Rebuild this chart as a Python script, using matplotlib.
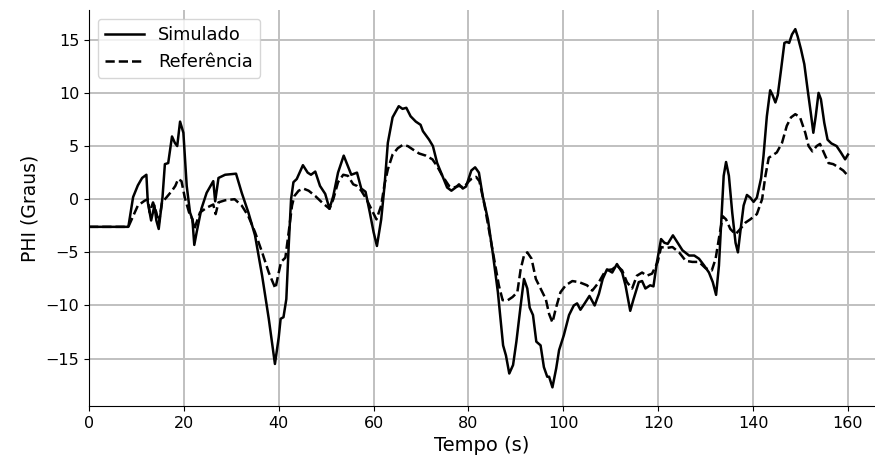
import matplotlib
matplotlib.use("Agg")
import matplotlib.pyplot as plt
import numpy as np

# Simulado (solid)
t_sim = [0, 8.3, 9.3, 10.3, 11.2, 12.1, 12.4, 13.1, 13.8, 14.2, 14.7, 15.5, 16.0, 16.7,
         17.5, 18.1, 18.6, 19.2, 19.9, 20.6, 21.3, 21.8, 22.2, 22.7, 23.7, 24.8, 26.2,
         26.6, 27.3, 28.7, 31.0, 32.2, 33.6, 35.0, 36.5, 37.9, 39.2, 40.0, 40.4, 41.0,
         41.6, 42.1, 42.6, 43.1, 43.8, 45.1, 46.1, 46.8, 47.7, 48.7, 49.8, 50.7, 51.5,
         52.5, 53.7, 54.6, 55.3, 56.5, 57.4, 58.3, 59.2, 60.0, 60.7, 61.6, 62.3, 63.0,
         64.0, 65.3, 66.1, 66.9, 67.8, 68.9, 69.9, 70.4, 71.7, 72.5, 73.4, 74.5, 75.5,
         76.4, 77.3, 78.0, 78.8, 79.5, 80.6, 81.4, 82.2, 83.0, 84.1, 85.1, 86.2, 86.9,
         87.3, 87.9, 88.6, 89.4, 90.1, 91.0, 91.7, 92.4, 92.9, 93.6, 94.3, 95.2, 95.9,
         96.6, 97.0, 97.7, 98.5, 99.1, 100.1, 101.2, 102.2, 102.9, 103.6, 104.5, 105.5,
         106.6, 107.5, 108.3, 109.2, 110.3, 111.3, 112.4, 113.1, 114.1, 114.8, 115.9,
         116.6, 117.3, 118.3, 119.0, 119.7, 120.6, 121.3, 122.0, 123.1, 124.1, 125.1,
         126.5, 127.6, 128.6, 129.7, 130.7, 131.5, 132.2, 132.8, 133.4, 133.8, 134.3,
         134.9, 135.6, 136.3, 136.8, 137.3, 138.0, 138.7, 139.4, 140.1, 140.8, 141.7,
         142.2, 142.9, 143.6, 144.1, 144.7, 145.2, 145.9, 146.6, 147.1, 147.6, 148.2,
         148.9, 149.4, 150.1, 150.8, 151.5, 152.2, 152.7, 153.2, 153.8, 154.3, 155.0,
         155.7, 156.5, 157.6, 158.5, 159.4, 160.0]
phi_sim = [-2.6, -2.6, 0.2, 1.3, 2.0, 2.3, -0.3, -2.0, -0.6, -2.0, -2.8, 0.2, 3.3, 3.4,
           5.9, 5.3, 5.0, 7.3, 6.25, 1.25, -1.25, -1.9, -4.3, -3.1, -0.9, 0.6, 1.7,
           -0.2, 2.0, 2.3, 2.4, 0.6, -1.25, -3.4, -7.2, -11.25, -15.5, -13.0, -11.25, -11.1,
           -9.4, -4.4, 0.0, 1.6, 1.9, 3.2, 2.5, 2.3, 2.6, 1.25, 0.5, -0.9, 0.3,
           2.5, 4.1, 3.1, 2.3, 2.5, 1.0, 0.7, -1.25, -3.1, -4.4, -1.9, 1.25, 5.3,
           7.7, 8.75, 8.5, 8.6, 7.8, 7.3, 7.0, 6.4, 5.6, 5.0, 3.4, 2.2, 1.1,
           0.8, 1.1, 1.4, 1.0, 1.2, 2.7, 3.0, 2.5, 0.3, -1.9, -5.0, -8.75, -11.9,
           -13.75, -14.7, -16.4, -15.6, -13.4, -10.0, -7.5, -8.4, -10.2, -10.9, -13.4, -13.75, -15.8,
           -16.7, -16.7, -17.7, -15.9, -14.2, -12.8, -10.9, -10.0, -9.8, -10.4, -9.8, -9.1,
           -10.0, -8.9, -7.5, -6.6, -6.9, -6.1, -6.9, -8.1, -10.5, -9.4, -7.8,
           -7.7, -8.4, -8.1, -8.2, -6.0, -3.75, -4.1, -4.2, -3.4, -4.1, -4.8,
           -5.3, -5.3, -5.6, -6.25, -6.9, -7.8, -9.0, -6.25, -1.25, 2.2, 3.5,
           2.2, -1.25, -4.1, -5.0, -3.1, -0.6, 0.4, 0.15, -0.25, 0.15, 2.0,
           4.1, 7.8, 10.25, 9.8, 9.1, 9.8, 12.2, 14.7, 14.8, 14.7, 15.5,
           16.0, 15.3, 14.1, 12.7, 10.3, 8.0, 6.25, 7.8, 10.0, 9.4, 7.2,
           5.6, 5.25, 5.0, 4.4, 3.75, 4.2]

# Referência (dashed)
t_ref = [0, 8.3, 9.3, 10.3, 11.7, 12.4, 12.8, 13.5, 14.2, 14.7, 15.4, 16.3, 17.5, 18.2,
         18.8, 19.5, 20.2, 21.1, 21.8, 22.2, 23.4, 24.8, 26.2, 26.7, 27.3, 28.7, 30.7,
         32.2, 33.6, 35.0, 36.5, 37.9, 39.3, 40.0, 40.5, 41.4, 42.1, 42.8, 43.3, 44.2,
         45.2, 46.3, 47.7, 49.1, 50.7, 51.5, 52.5, 53.6, 54.6, 55.7, 56.5, 57.4, 58.5,
         59.5, 60.6, 61.6, 62.3, 63.0, 64.0, 65.1, 66.1, 67.2, 68.2, 69.6, 71.0, 72.4,
         73.4, 74.5, 75.9, 76.9, 78.0, 79.0, 80.1, 80.6, 81.6, 82.3, 83.4, 84.4, 85.5,
         86.4, 87.2, 88.3, 89.3, 90.3, 91.0, 91.7, 92.4, 93.3, 94.2, 95.2, 96.3, 97.0,
         97.7, 98.4, 99.4, 100.5, 101.9, 103.3, 105.0, 106.1, 107.5, 108.9, 110.3, 111.3,
         112.4, 113.4, 114.5, 115.5, 116.6, 117.6, 118.7, 119.9, 120.6, 121.6, 123.0,
         124.4, 125.8, 127.2, 128.6, 130.0, 131.3, 132.1, 132.9, 133.6, 134.3, 135.2,
         136.3, 137.3, 138.4, 139.4, 140.8, 141.9, 142.6, 143.3, 144.0, 145.0, 146.1,
         147.1, 148.0, 148.9, 149.9, 151.0, 151.7, 152.5, 153.4, 154.1, 154.8, 155.9,
         156.9, 158.0, 159.0, 159.9]
phi_ref = [-2.6, -2.6, -1.6, -0.6, -0.15, 0.0, -1.25, -0.3, -1.25, -2.3, -0.3, 0.15, 0.8, 1.25,
           1.9, 1.7, 0.15, -1.25, -1.9, -2.8, -1.25, -0.8, -0.5, -1.4, -0.3, -0.1, 0.0,
           -0.6, -1.6, -3.1, -5.0, -6.9, -8.4, -6.9, -5.9, -5.5, -3.1, -0.6, 0.3, 0.8,
           1.0, 0.8, 0.3, -0.3, -0.9, 0.0, 1.6, 2.3, 2.2, 1.4, 1.25, 0.8, 0.0,
           -0.9, -1.9, -0.6, 1.4, 2.8, 4.2, 4.8, 5.1, 5.0, 4.7, 4.3, 4.1, 3.75,
           3.1, 2.2, 1.25, 1.1, 1.25, 1.1, 1.7, 1.9, 2.1, 1.7, -0.6, -3.1, -5.9,
           -8.1, -9.5, -9.5, -9.2, -8.75, -6.6, -5.3, -5.0, -5.6, -7.5, -8.4, -9.4, -10.8,
           -11.6, -10.3, -8.75, -8.1, -7.7, -7.8, -8.1, -8.6, -7.8, -6.7, -6.6, -6.25,
           -6.7, -7.8, -8.4, -7.2, -6.9, -7.2, -7.0, -5.9, -4.5, -4.6, -4.5,
           -5.0, -5.8, -5.9, -5.9, -6.5, -6.7, -5.6, -3.4, -1.6, -1.9, -2.8,
           -3.3, -2.8, -2.2, -1.9, -1.4, 0.0, 2.2, 3.9, 4.1, 4.4, 5.3,
           6.9, 7.7, 8.0, 7.7, 6.25, 5.0, 4.5, 5.0, 5.2, 4.5, 3.4,
           3.3, 3.0, 2.7, 2.25]

fig = plt.figure(figsize=(8.75, 4.65), dpi=100)
ax = fig.add_axes([0.1017, 0.127, 0.8983, 0.8515])

ax.plot(t_sim, phi_sim, color='black', lw=1.8, label='Simulado')
ax.plot(t_ref, phi_ref, color='black', lw=1.8, ls='--', label='Referência')

ax.set_xlim(0, 165.7)
ax.set_ylim(-19.45, 17.8)
ax.set_xticks(np.arange(0, 161, 20))
ax.set_yticks(np.arange(-15, 16, 5))
ax.grid(True, color='#c0c0c0', lw=1.4)
ax.set_axisbelow(True)
ax.spines['top'].set_visible(False)
ax.spines['right'].set_visible(False)
ax.tick_params(labelsize=11.5)
ax.set_xlabel('Tempo (s)', fontsize=14)
ax.set_ylabel('PHI (Graus)', fontsize=13.5)
ax.legend(loc='upper left', fontsize=12.8, handlelength=2.2)

fig.savefig('out.png', dpi=100)
